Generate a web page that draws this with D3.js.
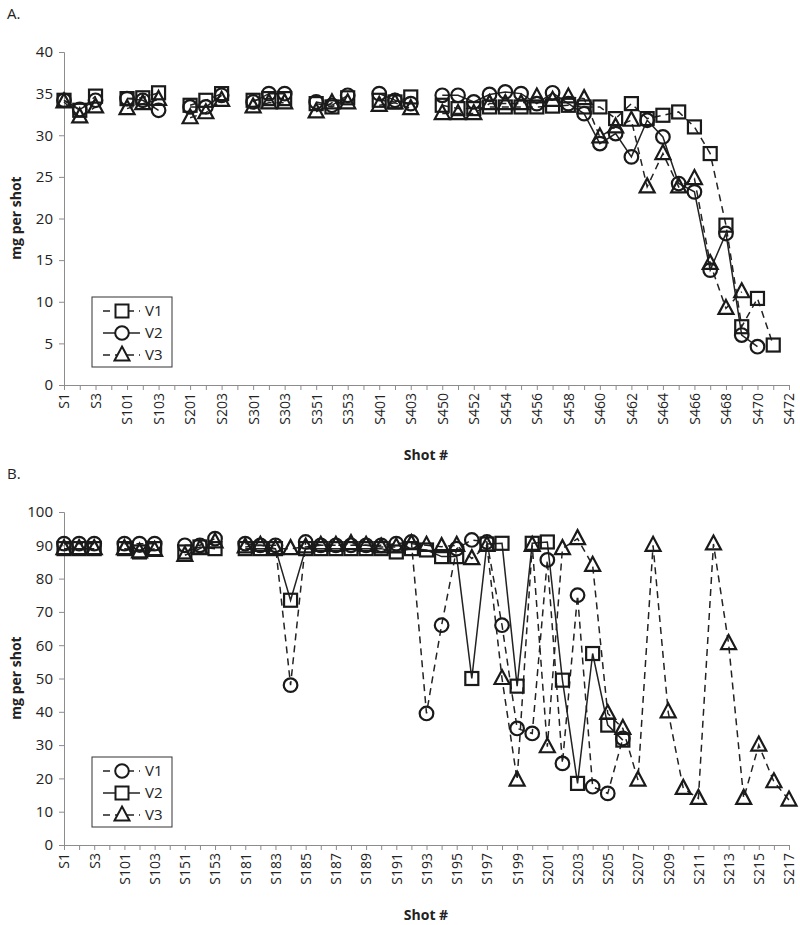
<!DOCTYPE html>
<html>
<head>
<meta charset="utf-8">
<script src="https://cdn.jsdelivr.net/npm/d3@7"></script>
<style>
  body { margin: 0; background: #fff; }
  text { font-family: "Open Sans", "DejaVu Sans", sans-serif; fill: #222; }
</style>
</head>
<body>
<script>
// Chart A: categories (gaps are empty slots on the axis)
var catsA = ["S1","S2","S3","gA1","S101","S102","S103","gA2","S201","S202","S203","gA3",
  "S301","S302","S303","gA4","S351","S352","S353","gA5","S401","S402","S403","gA6",
  "S450","S451","S452","S453","S454","S455","S456","S457","S458","S459","S460","S461",
  "S462","S463","S464","S465","S466","S467","S468","S469","S470","S471","S472"];

var aV1 = [34.2,33.0,34.7,null, 34.4,34.5,35.1,null, 33.6,34.2,35.0,null, 34.2,34.4,34.4,null,
  33.8,33.4,34.5,null, 34.2,34.0,34.6,null,
  33.6,33.2,33.2,33.4,33.4,33.4,33.4,33.5,33.6,33.4,33.4,32.0,33.8,32.0,32.4,32.8,31.0,27.8,19.2,7.0,10.4,4.8,null];
var aV2 = [34.2,33.1,34.2,null, 34.4,34.2,33.0,null, 33.4,33.4,34.8,null, 34.0,35.0,35.0,null,
  34.0,33.6,34.8,null, 35.0,34.2,33.8,null,
  34.8,34.8,34.0,34.9,35.2,35.0,33.8,35.1,33.8,32.6,29.0,30.2,27.4,31.8,29.8,24.2,23.2,13.8,18.2,6.0,4.6,null,null];
var aV3 = [34.0,32.2,33.4,null, 33.2,33.8,34.3,null, 32.1,32.7,34.2,null, 33.4,33.9,33.9,null,
  32.8,33.9,33.9,null, 33.6,33.9,33.2,null,
  32.6,32.6,32.6,33.8,33.8,33.8,34.6,34.2,34.6,34.4,29.8,31.0,31.8,23.8,27.8,23.8,24.8,14.6,9.2,11.2,null,null,null];
var ticksA = [0,5,10,15,20,25,30,35,40];

// Chart B
var catsB = ["S1","S2","S3","gB1","S101","S102","S103","gB2","S151","S152","S153","gB3",
  "S181","S182","S183","S184","S185","S186","S187","S188","S189","S190","S191","S192",
  "S193","S194","S195","S196","S197","S198","S199","S200","S201","S202","S203","S204",
  "S205","S206","S207","S208","S209","S210","S211","S212","S213","S214","S215","S216","S217"];

var bV1 = [90.5,90.5,90.5,null, 90.5,90.5,90.5,null, 90,90,92,null,
  90.5,90,90,48,91,90,90,90,90,90,90.5,91,
  39.5,66,89,91.6,91,66,35,33.5,85.6,24.5,75,17.5,15.5,32,
  null,null,null,null,null,null,null,null,null,null,null];
var bV2 = [89,89,89,null, 89,88,89,null, 88,89.5,89,null,
  89,89,89,73.5,89,89,89,89,89,89,88,89,
  88.6,86.6,86.6,50,90.4,90.6,47.7,90.6,91,49.5,18.5,57.5,36,31.5,
  null,null,null,null,null,null,null,null,null,null,null];
var bV3 = [89,89,89,null, 89,88,88.5,null, 87,89,91,null,
  89.5,90,89,89,89.5,90,90,90.5,90,89.5,89.5,90.5,
  90,89.6,90,86,90,50,19.5,90,29.5,89,92,84,39.5,35,
  19.5,90,40,17,14,90.4,60.5,14,30,19,13.5];
var ticksB = [0,10,20,30,40,50,60,70,80,90,100];

var width = 800, height = 925;
var svg = d3.select("body").append("svg")
  .attr("width", width)
  .attr("height", height);

var axisColor = "#8c8c8c";

function marker(sel, shape) {
  if (shape == "square") {
    sel.append("rect").attr("x", -6.5).attr("y", -6.5).attr("width", 13).attr("height", 13);
  } else if (shape == "circle") {
    sel.append("circle").attr("r", 6.8);
  } else {
    sel.append("path").attr("d", "M0,-8.5L7.5,5.5L-7.5,5.5Z");
  }
}

function drawPanel(top, label, cats, series, maxY, ticks) {
  var g = svg.append("g").attr("transform", "translate(0," + top + ")");
  var x = d3.scalePoint().domain(cats).range([64, 789]).padding(0);
  var y = d3.scaleLinear().domain([0, maxY]).range([385, 52]);

  g.append("text").attr("x", 7).attr("y", 19).style("font-size", "15px").text(label);

  // y axis
  var yAxis = g.append("g").attr("transform", "translate(64,0)")
    .call(d3.axisLeft(y).tickValues(ticks).tickSize(5).tickPadding(6));
  yAxis.selectAll("path, line").attr("stroke", axisColor);
  yAxis.selectAll("text").style("font-size", "15px").attr("fill", "#222")
    .style("font-family", "'Open Sans', sans-serif");

  // x axis
  var xAxis = g.append("g").attr("transform", "translate(0,385)")
    .call(d3.axisBottom(x).tickSize(5).tickSizeOuter(0)
      .tickFormat(function(d, i) { return i % 2 == 0 ? d : ""; }));
  xAxis.selectAll("path, line").attr("stroke", axisColor);
  xAxis.selectAll("text")
    .style("font-size", "14px").attr("fill", "#222")
    .style("font-family", "'Open Sans', sans-serif")
    .attr("transform", "rotate(-90)")
    .attr("text-anchor", "end")
    .attr("dy", "0.35em")
    .attr("x", -8).attr("y", 0);

  // titles
  g.append("text").attr("transform", "translate(21,218) rotate(-90)")
    .attr("text-anchor", "middle").style("font-size", "14px").style("font-weight", "bold")
    .text("mg per shot");
  g.append("text").attr("x", 426).attr("y", 460)
    .attr("text-anchor", "middle").style("font-size", "14px").style("font-weight", "bold")
    .text("Shot #");

  // lines then markers
  series.forEach(function(s) {
    var pts = cats.map(function(c, i) { return {c: c, v: s.values[i]}; });
    var line = d3.line()
      .defined(function(d) { return d.v != null; })
      .x(function(d) { return x(d.c); })
      .y(function(d) { return y(d.v); });
    g.append("path").datum(pts)
      .attr("d", line)
      .attr("fill", "none")
      .attr("stroke", "#222")
      .attr("stroke-width", 1.5)
      .attr("stroke-dasharray", s.dash ? "7,5" : null);
  });
  series.forEach(function(s) {
    var pts = cats.map(function(c, i) { return {c: c, v: s.values[i]}; })
      .filter(function(d) { return d.v != null; });
    var m = g.append("g").selectAll("g").data(pts).enter().append("g")
      .attr("transform", function(d) { return "translate(" + x(d.c) + "," + y(d.v) + ")"; })
      .attr("fill", "none").attr("stroke", "#1a1a1a").attr("stroke-width", 2.2);
    marker(m, s.shape);
  });

  // legend
  var lg = g.append("g").attr("transform", "translate(92,297)");
  lg.append("rect").attr("width", 80).attr("height", 70)
    .attr("fill", "#fff").attr("stroke", "#333").attr("stroke-width", 1);
  series.forEach(function(s, i) {
    var row = lg.append("g").attr("transform", "translate(0," + (14 + i * 22) + ")");
    row.append("line").attr("x1", 11).attr("x2", 48)
      .attr("stroke", "#222").attr("stroke-width", 1.5)
      .attr("stroke-dasharray", s.dash ? "7,5" : null);
    var mk = row.append("g").attr("transform", "translate(30,0)")
      .attr("fill", "#fff").attr("stroke", "#1a1a1a").attr("stroke-width", 2);
    marker(mk, s.shape);
    row.append("text").attr("x", 53).attr("y", 5).style("font-size", "15px").text(s.name);
  });
}

drawPanel(0, "A.", catsA, [
  {name: "V1", values: aV1, shape: "square", dash: true},
  {name: "V2", values: aV2, shape: "circle", dash: false},
  {name: "V3", values: aV3, shape: "triangle", dash: true}
], 40, ticksA);

drawPanel(460, "B.", catsB, [
  {name: "V1", values: bV1, shape: "circle", dash: true},
  {name: "V2", values: bV2, shape: "square", dash: false},
  {name: "V3", values: bV3, shape: "triangle", dash: true}
], 100, ticksB);
</script>
</body>
</html>
